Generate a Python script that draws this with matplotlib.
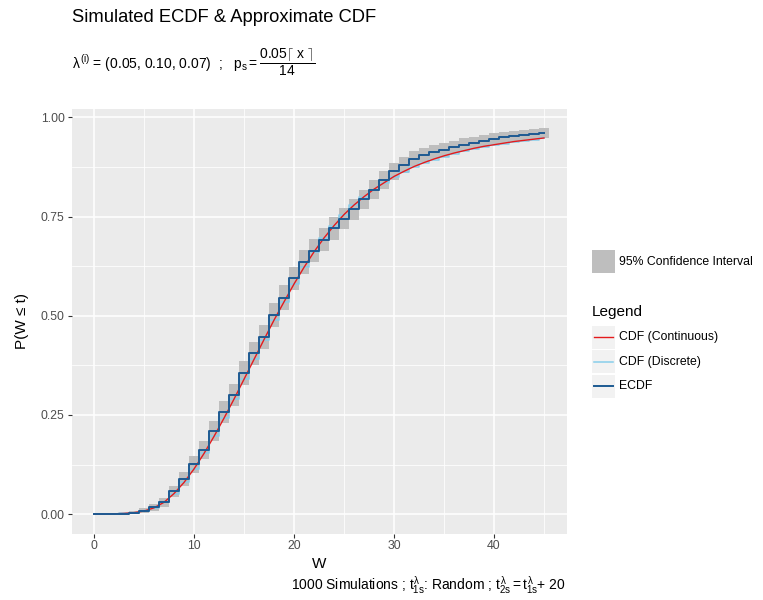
import matplotlib
matplotlib.use("Agg")
import matplotlib.pyplot as plt
from matplotlib.patches import Rectangle
from matplotlib.lines import Line2D
import numpy as np

plt.rcParams['font.family'] = ['Liberation Sans', 'DejaVu Sans']
plt.rcParams['mathtext.fontset'] = 'custom'
plt.rcParams['mathtext.rm'] = 'Liberation Sans'
plt.rcParams['mathtext.it'] = 'Liberation Sans'
plt.rcParams['mathtext.bf'] = 'Liberation Sans:bold'

# values
w = list(range(0, 46))
ecdf = [0.000, 0.000, 0.000, 0.001, 0.004, 0.009, 0.017, 0.030, 0.058, 0.088,
        0.126, 0.162, 0.210, 0.257, 0.300, 0.356, 0.405, 0.447, 0.502, 0.546,
        0.594, 0.636, 0.664, 0.692, 0.720, 0.745, 0.768, 0.793, 0.817, 0.842,
        0.864, 0.881, 0.896, 0.905, 0.912, 0.918, 0.925, 0.931, 0.936, 0.941,
        0.946, 0.950, 0.953, 0.956, 0.958, 0.960]
ci_half = [0.000, 0.000, 0.000, 0.002, 0.004, 0.006, 0.008, 0.011, 0.014, 0.018,
           0.021, 0.023, 0.025, 0.027, 0.028, 0.030, 0.030, 0.031, 0.031, 0.031,
           0.030, 0.030, 0.029, 0.029, 0.028, 0.027, 0.026, 0.025, 0.024, 0.023,
           0.021, 0.020, 0.019, 0.018, 0.018, 0.017, 0.016, 0.016, 0.015, 0.015,
           0.014, 0.014, 0.013, 0.013, 0.012, 0.012]
cdf_cont = [0.000, 0.000, 0.001, 0.002, 0.004, 0.008, 0.016, 0.030, 0.052, 0.080,
            0.114, 0.153, 0.196, 0.242, 0.290, 0.340, 0.390, 0.440, 0.489, 0.535,
            0.580, 0.622, 0.661, 0.696, 0.727, 0.755, 0.779, 0.800, 0.819, 0.835,
            0.851, 0.864, 0.876, 0.886, 0.895, 0.903, 0.910, 0.916, 0.922, 0.927,
            0.931, 0.935, 0.939, 0.942, 0.945, 0.948]
cdf_disc = [0.000, 0.000, 0.001, 0.002, 0.004, 0.008, 0.016, 0.030, 0.052, 0.080,
            0.114, 0.153, 0.196, 0.242, 0.290, 0.340, 0.390, 0.440, 0.489, 0.535,
            0.580, 0.622, 0.661, 0.696, 0.727, 0.755, 0.779, 0.800, 0.818, 0.834,
            0.849, 0.862, 0.874, 0.884, 0.893, 0.901, 0.908, 0.914, 0.920, 0.925,
            0.930, 0.934, 0.938, 0.941, 0.944, 0.947]

bg = '#EBEBEB'
c_ci = '#BEBEBE'
c_cont = '#E41A1C'
c_disc = '#87CEEB'
c_ecdf = '#1D5A92'

fig = plt.figure(figsize=(7.63, 6.0), dpi=100)
ax = fig.add_axes([71.5/763, 1-533.5/600, (566.5-71.5)/763, (533.5-109)/600])
ax.set_facecolor(bg)

x = np.array(w)
e = np.array(ecdf)
h = np.array(ci_half)
ax.bar(x, 2*h, bottom=e-h, width=1.0, color=c_ci, linewidth=0, zorder=2)
ax.step(x, cdf_disc, where='mid', color=c_disc, lw=1.1, zorder=3)
ax.plot(x, cdf_cont, color=c_cont, lw=1.0, zorder=4)
ax.step(x, ecdf, where='mid', color=c_ecdf, lw=1.4, zorder=5)

ax.set_xlim(-2.25, 47.25)
ax.set_ylim(-0.0486, 1.021)
ax.set_xticks([0, 10, 20, 30, 40])
ax.set_xticks([5, 15, 25, 35, 45], minor=True)
ax.set_yticks([0, 0.25, 0.5, 0.75, 1.0])
ax.set_yticklabels(['0.00', '0.25', '0.50', '0.75', '1.00'])
ax.set_yticks([0.125, 0.375, 0.625, 0.875], minor=True)
ax.grid(which='major', color='white', lw=1.1, zorder=0)
ax.grid(which='minor', color='white', lw=0.55, zorder=0)
ax.set_axisbelow(True)
for s in ax.spines.values():
    s.set_visible(False)
ax.tick_params(which='major', length=3, width=0.8, color='#333333',
               labelcolor='#4D4D4D', labelsize=8.8, pad=2)
ax.tick_params(which='minor', length=0)

ax.set_xlabel('W', fontsize=11, labelpad=3)
ax.set_ylabel('P(W ≤ t)', fontsize=11, labelpad=8)

fig.text(72/763, 1-18/600, 'Simulated ECDF & Approximate CDF', fontsize=13.2,
         va='center', ha='left')
fig.text(72/763, 1-62/600,
         r'$\lambda^{(i)}$ = (0.05, 0.10, 0.07)  ;   $p_s = \dfrac{0.05\lceil\ x\ \rceil}{14}$',
         fontsize=10, va='center', ha='left')
fig.text(566/763, 1-585/600,
         r'1000 Simulations ; $t^{\lambda}_{1s}$: Random ; $t^{\lambda}_{2s} = t^{\lambda}_{1s}$+ 20',
         fontsize=10, va='center', ha='right')

# legends
def px(xp, yp):
    return xp/763, 1-yp/600

fig.add_artist(Rectangle(px(592, 273), 23/763, 23/600, transform=fig.transFigure,
                         facecolor=c_ci, edgecolor='none'))
fig.text(*px(619, 262), '95% Confidence Interval', fontsize=8.8, va='center')
fig.text(*px(592, 312), 'Legend', fontsize=11, va='center')
items = [('CDF (Continuous)', c_cont, 1.0), ('CDF (Discrete)', c_disc, 1.1),
         ('ECDF', c_ecdf, 1.4)]
for i, (lab, col, lw) in enumerate(items):
    yc = 337 + i*24.5
    fig.add_artist(Rectangle(px(592, yc+11.5), 23/763, 23/600, transform=fig.transFigure,
                             facecolor='#F2F2F2', edgecolor='none'))
    fig.add_artist(Line2D([594/763, 613/763], [1-yc/600, 1-yc/600],
                          transform=fig.transFigure, color=col, lw=lw))
    fig.text(*px(619, yc), lab, fontsize=8.8, va='center')

fig.savefig('out.png', dpi=100)
